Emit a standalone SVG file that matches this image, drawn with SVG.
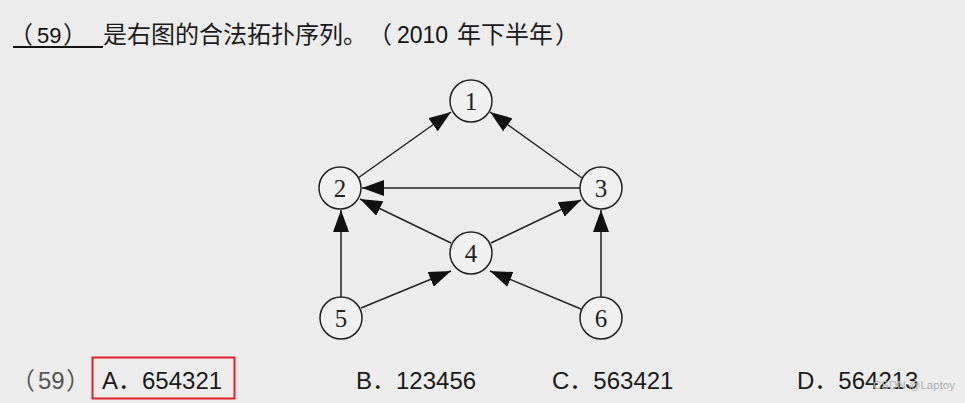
<svg xmlns="http://www.w3.org/2000/svg" width="965" height="403" viewBox="0 0 965 403">
<defs>
<marker id="arr" viewBox="0 0 22 16" refX="22" refY="8" markerWidth="22" markerHeight="16" markerUnits="userSpaceOnUse" orient="auto">
<path d="M0,0 L22,8 L0,16 Z" fill="#111"/>
</marker>
</defs>
<style>
.t{font-family:"Noto Sans CJK SC","Liberation Sans",sans-serif;font-size:24px;fill:#1a1a1a}
.d{font-family:"Liberation Sans",sans-serif}
.g{fill:#555}
.n circle{fill:#f0f0f0;stroke:#222;stroke-width:1.5}
.n text{font-family:"Liberation Serif",serif;font-size:25px;fill:#222;text-anchor:middle}
.e line{stroke:#222;stroke-width:1.5;marker-end:url(#arr)}
</style>
<rect width="965" height="403" fill="#ececec"/>
<text class="t" y="43" fill="#333"><tspan x="9">（</tspan><tspan class="d" x="37" font-size="22" fill="#111">59</tspan><tspan x="63">）</tspan></text>
<line x1="13" y1="47" x2="103" y2="47" stroke="#111" stroke-width="2"/>
<text class="t" y="43" fill="#333"><tspan x="103">是右图的合法拓扑序列。</tspan><tspan x="368">（</tspan><tspan class="d" x="397" fill="#111" font-size="23">2010</tspan><tspan x="457">年下半年</tspan><tspan x="555">）</tspan></text>
<g id="connectors" class="e">
<line x1="358" y1="178" x2="451" y2="112"/>
<line x1="582" y1="178" x2="490" y2="112"/>
<line x1="580" y1="188" x2="362" y2="188"/>
<line x1="451" y1="243" x2="360" y2="199"/>
<line x1="491" y1="243" x2="581" y2="200"/>
<line x1="341" y1="297" x2="341" y2="210"/>
<line x1="361" y1="308" x2="451" y2="271"/>
<line x1="581" y1="309" x2="490" y2="271"/>
<line x1="601" y1="297" x2="601" y2="210"/>
</g>
<g id="n1" class="n"><circle cx="471" cy="101" r="21"/><text x="471" y="110">1</text></g>
<g id="n2" class="n"><circle cx="340" cy="188" r="21"/><text x="340" y="197">2</text></g>
<g id="n3" class="n"><circle cx="601" cy="188" r="21"/><text x="601" y="197">3</text></g>
<g id="n4" class="n"><circle cx="471" cy="253" r="21"/><text x="471" y="262">4</text></g>
<g id="n5" class="n"><circle cx="341" cy="318" r="21"/><text x="341" y="327">5</text></g>
<g id="n6" class="n"><circle cx="601" cy="318" r="21"/><text x="601" y="327">6</text></g>
<text class="t g" y="389"><tspan x="11">（</tspan><tspan class="d" x="38">59</tspan><tspan x="66">）</tspan></text>
<rect x="92.5" y="357.5" width="142" height="41" fill="none" stroke="#e0202a" stroke-width="2"/>
<text class="t" x="102" y="389"><tspan class="d">A</tspan>．<tspan class="d">654321</tspan></text>
<text class="t" x="356" y="389"><tspan class="d">B</tspan>．<tspan class="d">123456</tspan></text>
<text class="t" x="552" y="389"><tspan class="d">C</tspan>．<tspan class="d">563421</tspan></text>
<text class="t" x="797" y="389"><tspan class="d">D</tspan>．<tspan class="d">564213</tspan></text>
<text x="873" y="389" font-family="Liberation Sans, sans-serif" font-size="11.5" fill="#b0b0b0">CSDN @Laptoy</text>
</svg>
